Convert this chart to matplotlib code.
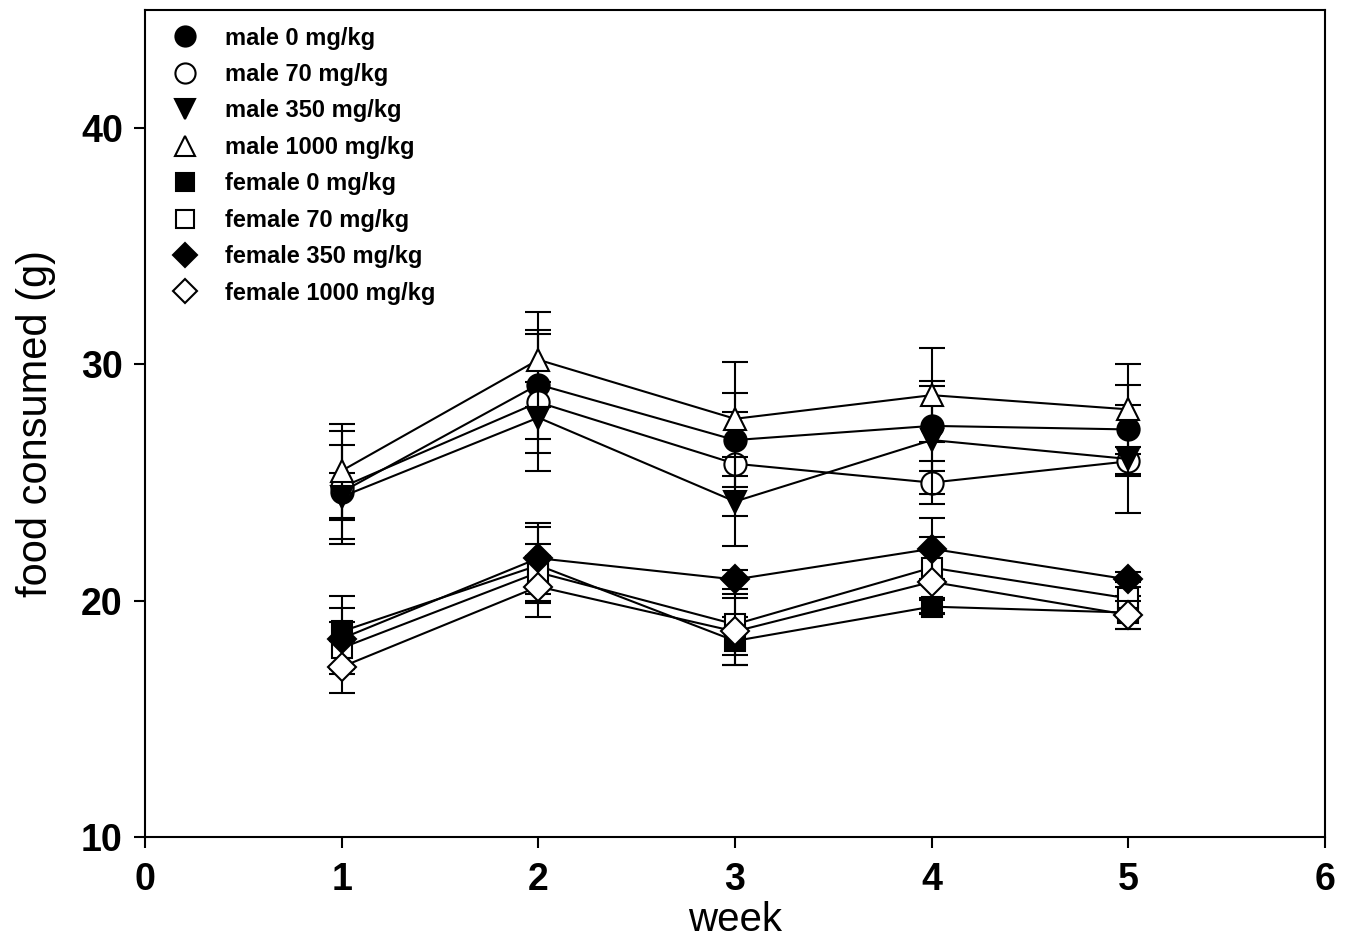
import matplotlib
matplotlib.use("Agg")
import matplotlib.pyplot as plt
from matplotlib.lines import Line2D

plt.rcParams['font.family'] = ['Liberation Sans', 'DejaVu Sans']

weeks = [1, 2, 3, 4, 5]

labels = ["male 0 mg/kg", "male 70 mg/kg", "male 350 mg/kg", "male 1000 mg/kg",
          "female 0 mg/kg", "female 70 mg/kg", "female 350 mg/kg", "female 1000 mg/kg"]

male_0 = [24.6, 29.15, 26.8, 27.4, 27.25]
male_70 = [24.8, 28.4, 25.8, 25.0, 25.9]
male_350 = [24.4, 27.75, 24.2, 26.8, 26.0]
male_1000 = [25.5, 30.2, 27.7, 28.7, 28.1]
female_0 = [18.7, 21.5, 18.3, 19.75, 19.5]
female_70 = [18.0, 21.2, 19.0, 21.4, 20.1]
female_350 = [18.4, 21.8, 20.9, 22.2, 20.9]
female_1000 = [17.2, 20.6, 18.7, 20.8, 19.4]

male_0_sd = [2.0, 2.3, 2.0, 1.9, 1.9]
male_70_sd = [2.4, 2.9, 2.2, 0.9, 0.6]
male_350_sd = [1.0, 1.5, 1.9, 2.3, 2.3]
male_1000_sd = [2.0, 2.0, 2.4, 2.0, 1.9]
female_0_sd = [1.5, 1.6, 1.0, 0.3, 0.7]
female_70_sd = [1.1, 1.2, 1.3, 1.3, 0.7]
female_350_sd = [1.3, 1.5, 0.4, 1.3, 0.3]
female_1000_sd = [1.1, 1.3, 1.4, 1.3, 0.6]

series = [male_0, male_70, male_350, male_1000, female_0, female_70, female_350, female_1000]
errors = [male_0_sd, male_70_sd, male_350_sd, male_1000_sd,
          female_0_sd, female_70_sd, female_350_sd, female_1000_sd]
markers = ['o', 'o', 'v', '^', 's', 's', 'D', 'D']
fills = ['black', 'white', 'black', 'white', 'black', 'white', 'black', 'white']
msizes = [16, 16, 16, 16, 14.5, 14.5, 14, 14]

fig = plt.figure(figsize=(13.5, 9.44), dpi=100)
ax = fig.add_axes([0.1074, 0.1133, 0.8741, 0.8761])

for i, (vals, err) in enumerate(zip(series, errors)):
    ax.errorbar(weeks, vals, yerr=err, color='black', lw=1.5, elinewidth=1.5,
                capsize=9.5, capthick=1.5, marker=markers[i], ms=msizes[i],
                mfc=fills[i], mec='black', mew=1.5, zorder=3 + i * 0.1)

handles = [Line2D([], [], ls='none', marker=markers[i], ms=msizes[i] - 1.5,
                  mfc=fills[i], mec='black', mew=1.5) for i in range(8)]
leg = ax.legend(handles, labels, loc='upper left', bbox_to_anchor=(0.010, 1.0),
                frameon=False, prop={'weight': 'bold', 'size': 17},
                handlelength=1.0, handletextpad=1.2, labelspacing=0.57,
                borderaxespad=0.3)

ax.set_xlim(0, 6)
ax.set_ylim(10, 45)
ax.set_xticks([0, 1, 2, 3, 4, 5, 6])
ax.set_yticks([10, 20, 30, 40])
ax.tick_params(direction='out', length=8, width=1.5, labelsize=27, pad=8)
ax.tick_params(axis='x', pad=10)
for lab in ax.get_xticklabels() + ax.get_yticklabels():
    lab.set_fontweight('bold')
for s in ax.spines.values():
    s.set_linewidth(1.5)

ax.set_xlabel('week', fontsize=29, labelpad=2)
ax.set_ylabel('food consumed (g)', fontsize=30, labelpad=18)

fig.savefig('out.png', dpi=100)
